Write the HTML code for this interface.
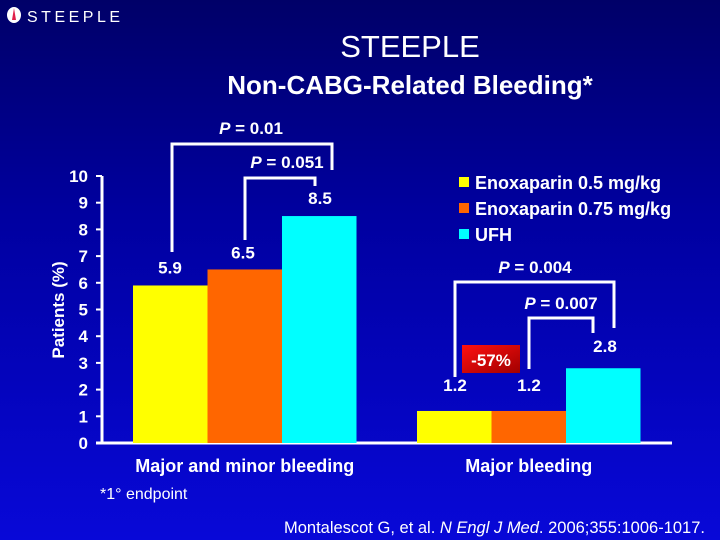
<!DOCTYPE html>
<html><head><meta charset="utf-8"><style>
html,body{margin:0;padding:0}
body{width:720px;height:540px;overflow:hidden;background:linear-gradient(#000068 0%,#0000a0 40%,#0808d8 100%);font-family:"Liberation Sans",Arial,sans-serif;color:#fff}
svg{position:absolute;left:0;top:0}
</style></head><body>
<svg width="720" height="540">
<defs><linearGradient id="rg" x1="0" x2="1" y1="0" y2="1"><stop offset="0" stop-color="#ff1010"/><stop offset="1" stop-color="#a00000"/></linearGradient></defs>
<g>
<ellipse cx="14" cy="15" rx="7" ry="8" fill="#fff"/><path d="M14 8 L16 20 L12 20 Z" fill="#e0204a"/>
<text x="27" y="22" font-size="16" fill="#fff" letter-spacing="3.5">STEEPLE</text></g>
<text x="410" y="57" text-anchor="middle" font-size="31" fill="#fff">STEEPLE</text>
<text x="410" y="94" text-anchor="middle" font-size="26" font-weight="bold" fill="#fff">Non-CABG-Related Bleeding*</text>
<g id="axes"></g><g id="bars"></g>
<g stroke="#fff" stroke-width="3" fill="none">
<polyline points="172,252 172,144 332,144 332,170"/>
<polyline points="245,240 245,178 315,178 315,186"/>
<polyline points="455,377 455,282 614,282 614,328"/>
<polyline points="529,369 529,318 593,318 593,333"/>
</g>
<g font-size="17" font-weight="bold" fill="#fff" text-anchor="middle">
<text x="251" y="134"><tspan font-style="italic">P</tspan> = 0.01</text>
<text x="287" y="168"><tspan font-style="italic">P</tspan> = 0.051</text>
<text x="535" y="273"><tspan font-style="italic">P</tspan> = 0.004</text>
<text x="561" y="309"><tspan font-style="italic">P</tspan> = 0.007</text>
</g>
<rect x="462" y="345" width="58" height="28" fill="url(#rg)"/>
<text x="491" y="366" text-anchor="middle" font-size="17" font-weight="bold" fill="#fff">-57%</text>
<g font-size="18" font-weight="bold" fill="#fff">
<rect x="459" y="177" width="10" height="10" fill="#ffff00"/><text x="475" y="189">Enoxaparin 0.5 mg/kg</text>
<rect x="459" y="203" width="10" height="10" fill="#ff6600"/><text x="475" y="215">Enoxaparin 0.75 mg/kg</text>
<rect x="459" y="229" width="10" height="10" fill="#00ffff"/><text x="475" y="241">UFH</text>
</g>
<text transform="translate(64,310) rotate(-90)" text-anchor="middle" font-size="17" font-weight="bold" fill="#fff">Patients (%)</text>
<text x="100" y="499" font-size="16" fill="#fff">*1° endpoint</text>
<text x="705" y="533" text-anchor="end" font-size="16.5" fill="#fff">Montalescot G, et al. <tspan font-style="italic">N Engl J Med</tspan>. 2006;355:1006-1017.</text>
</svg>
<script>
const categories=["Major and minor bleeding","Major bleeding"];
const enox05=[5.9,1.2];
const enox075=[6.5,1.2];
const ufh=[8.5,2.8];
const yTicks=[0,1,2,3,4,5,6,7,8,9,10];
const NS="http://www.w3.org/2000/svg";
const y=v=>443-v*26.7;
const groupX=[133,417];
const bw=74.5;
function mk(t,a,p){const e=document.createElementNS(NS,t);for(const k in a)e.setAttribute(k,a[k]);p.appendChild(e);return e;}
const ax=document.getElementById('axes');
let l=mk('line',{x1:102,y1:y(10),x2:102,y2:443,stroke:'#fff','stroke-width':3},ax);


l=mk('line',{x1:96,y1:443,x2:672,y2:443,stroke:'#fff','stroke-width':3},ax);


yTicks.forEach(v=>{
 const t=mk('line',{x1:96,x2:102,y1:y(v),y2:y(v),stroke:'#fff','stroke-width':2},ax);
 
 
 const tx=mk('text',{x:88,y:y(v)+6,'text-anchor':'end','font-size':17,'font-weight':'bold',fill:'#fff'},ax);
 tx.textContent=v;
 
 
});
const bars=document.getElementById('bars');
const series=[[enox05,'#ffff00'],[enox075,'#ff6600'],[ufh,'#00ffff']];
categories.forEach((c,i)=>{
 series.forEach((s,j)=>{
  const v=s[0][i];const x=groupX[i]+j*bw;
  const r=mk('rect',{x:x,y:y(v),width:bw,height:443-y(v),fill:s[1]},bars);
  
  
 });
 const cl=mk('text',{x:groupX[i]+bw*1.5,y:472,'text-anchor':'middle','font-size':18,'font-weight':'bold',fill:'#fff'},bars);
 cl.textContent=c;
 
 
});
const vl=[[enox05[0],170,y(enox05[0])-12],[enox075[0],243,y(enox075[0])-11],[ufh[0],320,y(ufh[0])-12],[enox05[1],455,y(enox05[1])-20],[enox075[1],529,y(enox075[1])-20],[ufh[1],605,y(ufh[1])-16]];
vl.forEach(a=>{
 const t=mk('text',{x:a[1],y:a[2],'text-anchor':'middle','font-size':17,'font-weight':'bold',fill:'#fff'},bars);
 t.textContent=a[0].toFixed(1);
 
 
});
</script>
</body></html>
